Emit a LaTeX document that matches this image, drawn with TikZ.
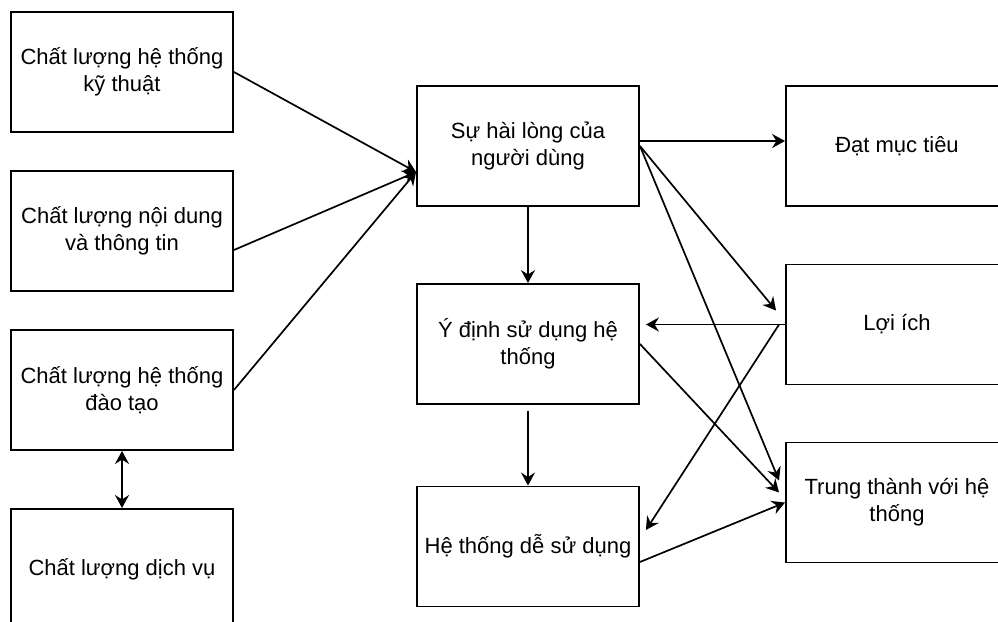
\documentclass[tikz,border=0pt]{standalone}
\usepackage{fontspec}
\setmainfont{Liberation Sans}
\usetikzlibrary{arrows.meta}

\begin{document}
\begin{tikzpicture}
            [x=0.5pt,y=-0.5pt,line width=0.85pt,>={Stealth[length=6.5pt,width=7pt,inset=2.2pt]},
             every node/.style={draw, rectangle, line width=0.95pt, minimum width=111pt, minimum height=60pt, align=center, inner sep=2pt, font=\fontsize{11}{13.5}\selectfont}]
          \useasboundingbox (0,0) rectangle (998,622);
          \clip (0,0) rectangle (998,622);

          \node (n1) at (122,72) {Chất lượng hệ thống\\kỹ thuật};
          \node (n2) at (122,231) {Chất lượng nội dung\\và thông tin};
          \node (n3) at (122,390) {Chất lượng hệ thống\\đào tạo};
          \node (n4) at (122,569) {Chất lượng dịch vụ};
          \node (n5) at (528,146) {Sự hài lòng của\\người dùng};
          \node (n6) at (528,344) {Ý định sử dụng hệ\\thống};
          \node (n7) at (528,546.5) {Hệ thống dễ sử dụng};
          \node (n8) at (897,146) {Đạt mục tiêu};
          \node (n9) at (897,324.5) {Lợi ích};
          \node (n10) at (897,502.5) {Trung thành với hệ\\thống};

          % end points on the box sides
          \coordinate (p1) at ([yshift=-13pt]n5.west);
          \coordinate (p2) at ([yshift=-9.5pt]n2.east);
          \coordinate (p3) at ([yshift=-3pt]n6.south);
          \coordinate (p4) at ([yshift=2.5pt]n5.east);
          \coordinate (p5) at ([yshift=2.5pt]n8.west);
          \coordinate (p6) at ([xshift=-4.5pt,yshift=7pt]n9.west);
          \coordinate (p7) at ([xshift=-3pt,yshift=11pt]n10.west);
          \coordinate (p8) at ([xshift=-3pt,yshift=5pt]n10.west);
          \coordinate (p9) at ([yshift=-7.75pt]n7.east);
          \coordinate (p10) at ([xshift=3pt,yshift=9.75pt]n6.east);
          \coordinate (p11) at ([xshift=-3pt]n9.west);
          \coordinate (p12) at ([xshift=3pt,yshift=8.25pt]n7.east);

          \foreach \from/\to in {n1.east/p1, p2/p1, n3.east/p1, n5.south/n6.north, p3/n7.north, p4/p5, n5.east/p6, n5.east/p7, n6.east/p8, p9/n10.west, n9.west/p10, p11/p12}
            \draw (\from) edge[->] (\to);

          \draw (n3.south) edge[<->] (n4.north);
        \end{tikzpicture}
\end{document}
